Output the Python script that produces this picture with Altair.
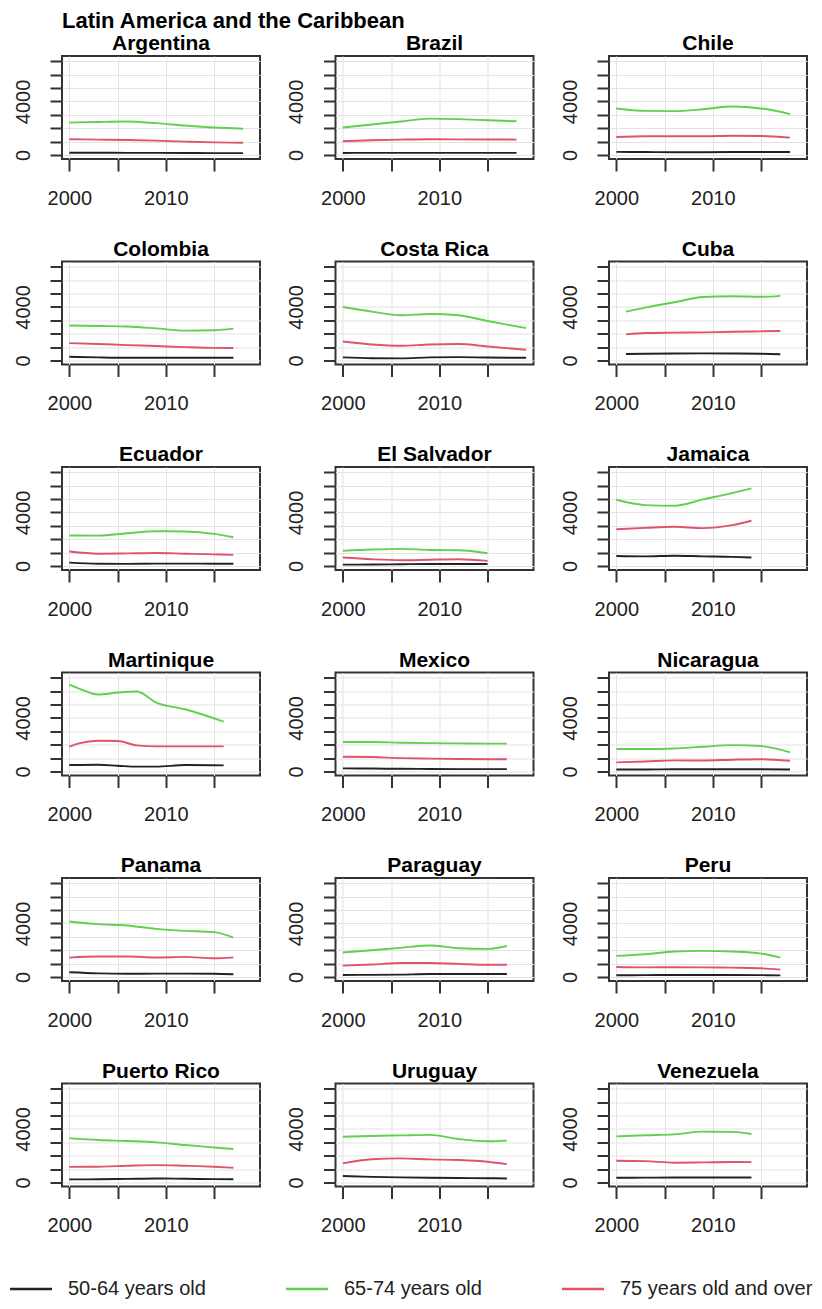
import altair as alt
import pandas as pd

main_title = "Latin America and the Caribbean"
countries = ["Argentina", "Brazil", "Chile", "Colombia", "Costa Rica", "Cuba",
             "Ecuador", "El Salvador", "Jamaica", "Martinique", "Mexico", "Nicaragua",
             "Panama", "Paraguay", "Peru", "Puerto Rico", "Uruguay", "Venezuela"]
series = ["50-64 years old", "65-74 years old", "75 years old and over"]
colors = ["#222222", "#61D04F", "#DF536B"]

std18 = [2000, 2003, 2006, 2009, 2012, 2015, 2018]
std17 = [2000, 2003, 2006, 2009, 2012, 2015, 2017]
years = {
    "Argentina": std18, "Brazil": std18, "Chile": std18, "Colombia": std17,
    "Costa Rica": [2000, 2003, 2006, 2009, 2012, 2015, 2019],
    "Cuba": [2001, 2003, 2006, 2009, 2012, 2015, 2017],
    "Ecuador": std17, "El Salvador": [2000, 2003, 2006, 2009, 2012, 2015],
    "Jamaica": [2000, 2003, 2006, 2009, 2012, 2014],
    "Martinique": [2000, 2001, 2003, 2005, 2007, 2009, 2012, 2016],
    "Mexico": std17, "Nicaragua": std18, "Panama": std17, "Paraguay": std17,
    "Peru": std17, "Puerto Rico": std17, "Uruguay": std17,
    "Venezuela": [2000, 2003, 2006, 2009, 2012, 2014],
}
v_50_64 = {
    "Argentina": [170, 170, 160, 160, 150, 140, 140],
    "Brazil": [150, 160, 160, 160, 160, 160, 160],
    "Chile": [230, 220, 210, 210, 220, 220, 220],
    "Colombia": [280, 230, 200, 200, 200, 200, 200],
    "Costa Rica": [230, 170, 160, 230, 250, 220, 200],
    "Cuba": [480, 500, 520, 530, 520, 500, 470],
    "Ecuador": [250, 170, 160, 180, 180, 170, 170],
    "El Salvador": [100, 110, 130, 150, 150, 150],
    "Jamaica": [750, 720, 770, 720, 680, 630],
    "Martinique": [480, 490, 500, 430, 360, 360, 480, 460],
    "Mexico": [230, 220, 200, 190, 180, 180, 180],
    "Nicaragua": [150, 150, 170, 170, 170, 170, 150],
    "Panama": [350, 270, 240, 250, 250, 240, 200],
    "Paraguay": [150, 160, 180, 220, 220, 220, 220],
    "Peru": [130, 140, 150, 150, 150, 140, 120],
    "Puerto Rico": [230, 240, 270, 300, 280, 250, 240],
    "Uruguay": [480, 420, 380, 350, 330, 320, 300],
    "Venezuela": [350, 360, 370, 370, 370, 370],
}
v_65_74 = {
    "Argentina": [2420, 2470, 2500, 2380, 2200, 2050, 1960],
    "Brazil": [2050, 2280, 2500, 2720, 2680, 2600, 2520],
    "Chile": [3480, 3300, 3280, 3420, 3620, 3480, 3060],
    "Colombia": [2620, 2580, 2540, 2400, 2230, 2260, 2380],
    "Costa Rica": [4000, 3650, 3380, 3480, 3380, 2950, 2420],
    "Cuba": [3650, 3950, 4350, 4750, 4800, 4760, 4830],
    "Ecuador": [2280, 2270, 2450, 2600, 2580, 2400, 2150],
    "El Salvador": [1130, 1230, 1280, 1200, 1180, 950],
    "Jamaica": [4950, 4550, 4500, 4980, 5450, 5800],
    "Martinique": [6500, 6200, 5750, 5900, 5980, 5150, 4650, 3720],
    "Mexico": [2200, 2200, 2150, 2120, 2100, 2080, 2080],
    "Nicaragua": [1680, 1680, 1720, 1850, 1970, 1900, 1430],
    "Panama": [4150, 3950, 3850, 3600, 3450, 3350, 2950],
    "Paraguay": [1830, 2000, 2180, 2350, 2150, 2100, 2320],
    "Peru": [1580, 1700, 1900, 1950, 1900, 1750, 1450],
    "Puerto Rico": [3320, 3180, 3100, 3000, 2800, 2620, 2500],
    "Uruguay": [3420, 3480, 3520, 3560, 3250, 3080, 3130],
    "Venezuela": [3450, 3530, 3600, 3800, 3780, 3620],
}
v_75_plus = {
    "Argentina": [1180, 1150, 1120, 1070, 1000, 940, 910],
    "Brazil": [1030, 1100, 1150, 1180, 1170, 1160, 1150],
    "Chile": [1350, 1400, 1400, 1400, 1440, 1420, 1300],
    "Colombia": [1300, 1230, 1150, 1080, 1000, 940, 930],
    "Costa Rica": [1420, 1200, 1100, 1200, 1230, 1050, 800],
    "Cuba": [1950, 2050, 2080, 2100, 2150, 2180, 2200],
    "Ecuador": [1080, 920, 940, 970, 920, 870, 830],
    "El Salvador": [630, 500, 430, 470, 500, 380],
    "Jamaica": [2750, 2850, 2930, 2830, 3050, 3380],
    "Martinique": [1850, 2100, 2300, 2280, 1950, 1880, 1880, 1880],
    "Mexico": [1100, 1080, 1000, 960, 930, 920, 920],
    "Nicaragua": [680, 750, 830, 820, 880, 920, 800],
    "Panama": [1450, 1530, 1530, 1460, 1500, 1400, 1470],
    "Paraguay": [850, 930, 1050, 1050, 980, 920, 920],
    "Peru": [750, 720, 730, 720, 700, 650, 550],
    "Puerto Rico": [1170, 1180, 1250, 1300, 1250, 1180, 1100],
    "Uruguay": [1430, 1740, 1800, 1730, 1680, 1550, 1370],
    "Venezuela": [1630, 1600, 1480, 1500, 1530, 1520],
}
y_ticks = [0, 1000, 2000, 3000, 4000, 5000, 6000, 7000]
x_ticks = [2000, 2005, 2010, 2015]

rows = []
for c in countries:
    for s, vals in zip(series, [v_50_64, v_65_74, v_75_plus]):
        for yr, v in zip(years[c], vals[c]):
            rows.append({"country": c, "group": s, "year": yr, "value": v})
df = pd.DataFrame(rows)

FONT = "Liberation Sans"

legend = alt.Legend(
    title=None, orient="none", legendX=-43, legendY=1221,
    direction="horizontal", columns=3, gridAlign="all",
    symbolType="M-2,0L2,0", symbolSize=441, symbolStrokeWidth=2.5,
    labelFont=FONT, labelFontSize=20, labelColor="#222",
    labelOffset=25, columnPadding=20, labelLimit=400,
)


def panel(c):
    return (
        alt.Chart(df)
        .transform_filter(alt.datum.country == c)
        .mark_line(strokeWidth=1.9, interpolate="monotone")
        .encode(
            x=alt.X("year:Q",
                    scale=alt.Scale(domain=[1999.24, 2019.76], nice=False, zero=False),
                    axis=alt.Axis(values=x_ticks, format="d", title=None,
                                  labelExpr="datum.value == 2000 || datum.value == 2010 ? datum.label : ''",
                                  labelFlush=False, labelPadding=17)),
            y=alt.Y("value:Q",
                    scale=alt.Scale(domain=[-300, 7400], nice=False),
                    axis=alt.Axis(values=y_ticks, format="d", title=None,
                                  labelExpr="datum.value == 0 || datum.value == 4000 ? datum.label : ''",
                                  labelAngle=270, labelAlign="center", labelBaseline="bottom",
                                  labelPadding=17, labelFlush=False)),
            color=alt.Color("group:N", scale=alt.Scale(domain=series, range=colors), legend=legend),
        )
        .properties(width=198, height=103,
                    title=alt.TitleParams(c, font=FONT, fontSize=21, fontWeight="bold",
                                          color="#000", offset=2))
    )


chart = (
    alt.concat(*[panel(c) for c in countries], columns=3,
               spacing={"row": 102.5, "column": 75.5}, bounds="flush")
    .properties(
        title=alt.TitleParams(main_title, font=FONT, fontSize=22, fontWeight="bold",
                              color="#000", anchor="start", frame="group", offset=-1),
        padding={"left": 3, "top": 2, "right": 0, "bottom": 0},
    )
    .configure_view(stroke="#333", strokeWidth=2)
    .configure_axis(domain=False, tickColor="#333", tickWidth=2, tickSize=12,
                    gridColor="#e3e3e3", gridWidth=1, labelFont=FONT,
                    labelFontSize=20, labelColor="#222")
)

chart.save("out.html", embed_options={"renderer": "svg", "actions": False})
